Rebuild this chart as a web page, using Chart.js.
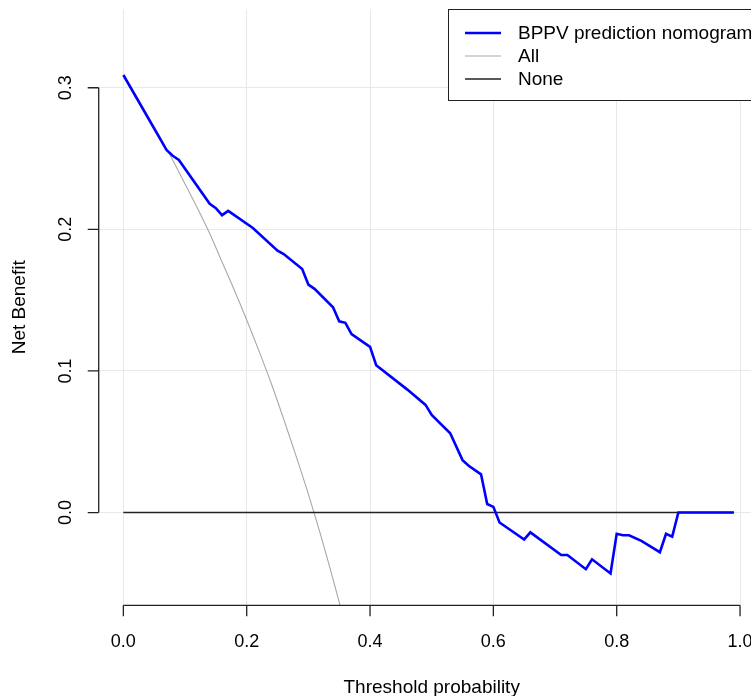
<!DOCTYPE html>
<html>
<head>
<meta charset="utf-8">
<script src="https://cdn.jsdelivr.net/npm/chart.js@4/dist/chart.umd.min.js"></script>
<style>
html,body{margin:0;padding:0;overflow:hidden;background:#fff;}
#wrap{width:751px;height:696px;overflow:hidden;}
#dca{display:block;width:780px;height:696px;}
</style>
</head>
<body>
<div id="wrap"><canvas id="dca" width="780" height="696"></canvas></div>
<script>
// decision curve, values
const thresholds=[0,0.07,0.08,0.09,0.14,0.15,0.16,0.17,0.21,0.25,0.26,0.29,0.30,0.31,0.34,0.35,0.36,0.37,0.40,0.41,0.46,0.49,0.50,0.53,0.55,0.56,0.58,0.59,0.60,0.61,0.65,0.66,0.71,0.72,0.75,0.76,0.79,0.80,0.81,0.82,0.84,0.87,0.88,0.89,0.90,0.99];
const modelNB=[0.309,0.256,0.252,0.249,0.218,0.215,0.210,0.213,0.201,0.185,0.1826,0.172,0.161,0.158,0.145,0.135,0.134,0.126,0.117,0.104,0.087,0.076,0.069,0.056,0.037,0.033,0.027,0.006,0.004,-0.007,-0.019,-0.014,-0.030,-0.030,-0.040,-0.033,-0.043,-0.015,-0.016,-0.016,-0.020,-0.028,-0.015,-0.017,0,0];

const allThresholds=[0,0.02,0.04,0.06,0.08,0.10,0.12,0.14,0.16,0.18,0.20,0.22,0.24,0.26,0.28,0.30,0.32,0.34,0.36];
const allNB=[0.309,0.295,0.280,0.265,0.249,0.232,0.215,0.197,0.177,0.157,0.136,0.114,0.091,0.066,0.040,0.013,-0.016,-0.047,-0.080];

const noneThresholds=[0,0.99];
const noneNB=[0,0];

const xTicks=[0,0.2,0.4,0.6,0.8,1.0];
const yTicks=[0,0.1,0.2,0.3];
const legendLabels=['BPPV prediction nomogram','All','None'];
const seriesColors=['#0000ff','#a8a8a8','#222222'];

function pts(xs,ys){ return xs.map((x,i)=>({x:x,y:ys[i]})); }

const FONT='"Liberation Sans", Arial, Helvetica, sans-serif';

const rAxes={
  id:'rAxes',
  afterDraw(chart){
    const ctx=chart.ctx, xs=chart.scales.x, ys=chart.scales.y, a=chart.chartArea;
    ctx.save();
    ctx.strokeStyle='#222';
    ctx.lineWidth=1.3;
    // y axis
    ctx.beginPath();
    ctx.moveTo(a.left,ys.getPixelForValue(yTicks[0]));
    ctx.lineTo(a.left,ys.getPixelForValue(yTicks[yTicks.length-1]));
    yTicks.forEach(v=>{const p=ys.getPixelForValue(v);ctx.moveTo(a.left,p);ctx.lineTo(a.left-11,p);});
    // x axis
    ctx.moveTo(xs.getPixelForValue(xTicks[0]),a.bottom);
    ctx.lineTo(xs.getPixelForValue(xTicks[xTicks.length-1]),a.bottom);
    xTicks.forEach(v=>{const p=xs.getPixelForValue(v);ctx.moveTo(p,a.bottom);ctx.lineTo(p,a.bottom+11);});
    ctx.stroke();

    ctx.fillStyle='#000';
    ctx.font='18px '+FONT;
    ctx.textAlign='center';
    ctx.textBaseline='alphabetic';
    xTicks.forEach(v=>{ctx.fillText(v.toFixed(1),xs.getPixelForValue(v),646.5);});
    yTicks.forEach(v=>{
      ctx.save();
      ctx.translate(71,ys.getPixelForValue(v));
      ctx.rotate(-Math.PI/2);
      ctx.fillText(v.toFixed(1),0,0);
      ctx.restore();
    });

    ctx.font='19px '+FONT;
    ctx.fillText('Threshold probability',(a.left+a.right)/2,692.5);
    ctx.save();
    ctx.translate(25,(a.top+a.bottom)/2);
    ctx.rotate(-Math.PI/2);
    ctx.fillText('Net Benefit',0,0);
    ctx.restore();

    // legend box
    ctx.fillStyle='#fff';
    ctx.fillRect(448.5,9.5,320,91);
    ctx.strokeStyle='#222';
    ctx.lineWidth=1;
    ctx.strokeRect(448.5,9.5,320,91);
    const rows=[33,56,79];
    const widths=[2.5,1,1.3];
    legendLabels.forEach((t,i)=>{
      ctx.strokeStyle=seriesColors[i];
      ctx.lineWidth=widths[i];
      ctx.beginPath();
      ctx.moveTo(465,rows[i]);ctx.lineTo(501,rows[i]);
      ctx.stroke();
      ctx.fillStyle='#000';
      ctx.textAlign='left';
      ctx.textBaseline='middle';
      ctx.fillText(t,518,rows[i]+1);
    });
    ctx.restore();
  }
};

new Chart(document.getElementById('dca'),{
  type:'line',
  data:{
    datasets:[
      {label:legendLabels[0],data:pts(thresholds,modelNB),borderColor:seriesColors[0],borderWidth:2.6,pointRadius:0,tension:0},
      {label:legendLabels[2],data:pts(noneThresholds,noneNB),borderColor:seriesColors[2],borderWidth:1.5,pointRadius:0,tension:0},
      {label:legendLabels[1],data:pts(allThresholds,allNB),borderColor:seriesColors[1],borderWidth:1.1,pointRadius:0,tension:0.3}
    ]
  },
  options:{
    responsive:false,
    animation:false,
    devicePixelRatio:1,
    layout:{padding:{left:98.7,top:9.3,right:15.3,bottom:90.7}},
    plugins:{legend:{display:false},tooltip:{enabled:false}},
    scales:{
      x:{
        type:'linear',min:-0.04,max:1.04,
        afterBuildTicks:s=>{s.ticks=xTicks.map(v=>({value:v}));},
        ticks:{display:false},
        border:{display:false},
        grid:{color:'#e8e8e8',lineWidth:1,drawTicks:false}
      },
      y:{
        type:'linear',min:-0.0655,max:0.3554,
        afterBuildTicks:s=>{s.ticks=yTicks.map(v=>({value:v}));},
        ticks:{display:false},
        border:{display:false},
        grid:{color:'#e8e8e8',lineWidth:1,drawTicks:false}
      }
    }
  },
  plugins:[rAxes]
});
</script>
</body>
</html>
